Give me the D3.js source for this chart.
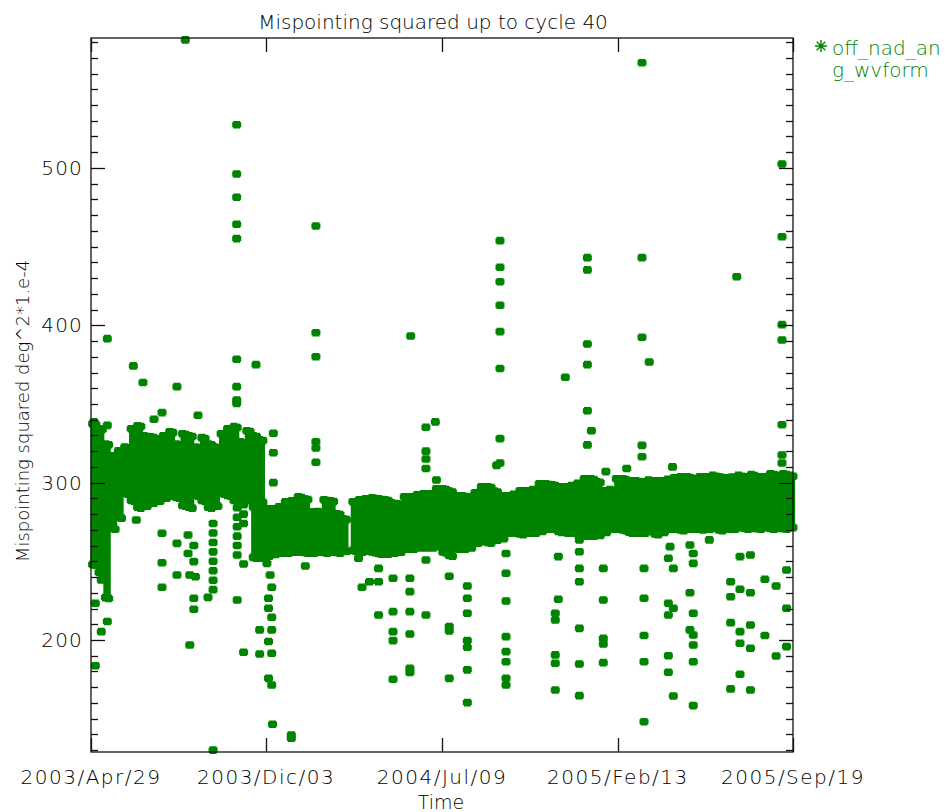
<!DOCTYPE html>
<html><head><meta charset="utf-8">
<script src="https://cdn.jsdelivr.net/npm/d3@7"></script>
<style>body{margin:0;background:#fff} text{font-family:"DejaVu Sans",sans-serif;font-weight:200;}</style>
</head><body><svg id="c" width="949" height="812"></svg>
<script>
// ---------- data ----------
const startDate = "2003-04-29";
const endDate = "2005-09-19";
const yDomain = [128.8, 582.6];
const yMajorTicks = [200, 300, 400, 500];
const yMinorStep = 10;
const xTickDates = ["2003-04-29", "2003-12-03", "2004-07-09", "2005-02-13", "2005-09-19"];
const xTickLabels = ["2003/Apr/29", "2003/Dic/03", "2004/Jul/09", "2005/Feb/13", "2005/Sep/19"];
const titleText = "Mispointing squared up to cycle 40";
const xLabel = "Time";
const yLabel = "Mispointing squared deg^2*1.e-4";
const legendLines = ["off_nad_an", "g_wvform"];

// dense band: [day since start, low value, high value], each column spans bandStep days
const bandStep = 8;
const bandA = [[0,245,339.8],[8,240,336.7],[16,224,327],[24,268,319.5],[32,275,322.6],[40,290.3,325],[48,285.8,336.7],[56,281.4,338.6],[64,282.6,332.2],[72,284.5,331.6],[80,285.8,330.3],[88,287.7,332.2],[96,289,334.7],[104,287.7,327],[112,282.6,333.5],[120,281.4,332.2],[128,289,325],[136,285.8,331],[144,281.4,327],[152,282.6,325],[160,290.3,333.5],[168,289,336.7],[176,285.8,338],[184,284.5,328.3],[192,286.4,335.4],[200,283.9,332.2],[208,285.1,329.7]];
const bandB = [[200,249.6,287],[208,249.6,287],[216,250.8,285.8],[224,252,285.8],[232,252.7,287],[240,252.7,290.3],[248,253.4,290.9],[256,253.4,293.4],[264,252.7,292.2],[272,252.7,283.9],[280,253.4,284],[288,252.7,291.5],[296,253.4,290.9],[304,252.7,282.6],[312,254,279.4]];
const bandC = [[324,254,290.3],[332,253.4,291.5],[340,254,292.2],[348,253,292.8],[356,252.1,292.2],[364,252.1,291.5],[372,252.7,289.6],[380,253.4,289],[388,255.3,293.4],[396,255.3,293.4],[404,256,294.7],[412,256.1,295.3],[420,256.1,295.3],[428,257,298.5],[436,253,298.5],[444,250.8,297],[452,255.3,294.1],[460,255.3,294.1],[468,256,293.4],[476,259.1,296],[484,260,299.8],[492,259.1,299.8],[500,261,297],[508,262,294.1],[516,265.5,294.1],[524,265.5,295],[532,264.5,297.2],[540,265.5,297.2],[548,265.5,298],[556,266.5,301.7],[564,268,301.7],[572,268,301],[580,266,299.8],[588,265.5,299.8],[596,265.5,300.5],[604,264.5,302],[612,263.6,304.9],[620,263.6,304.9],[628,264,303],[636,266,297.2],[644,268,298],[652,268,304.9],[660,267,304.9],[668,265.5,303.6],[676,265.5,303.6],[684,265.5,303],[692,266.5,304],[700,264.5,303.6],[708,266,303.6],[716,268,304.5],[724,268,305.5],[732,267,306.1],[740,268,306.1],[748,268,305],[756,267.5,306.1],[764,268,306.1],[772,268.5,307],[780,267,306.1],[788,268,305.5],[796,268,306],[804,269,307],[812,268,306.1],[820,268.5,307.5],[828,268,306.1],[836,269,306.1],[844,268,308],[852,268.5,307],[860,268,308],[868,269,307]];

// scattered points: [day since start, [values...]]
const outliers = [
  [3.7,[338.6]],[5.4,[223.3,183.6]],[12.8,[238.1,205.3]],[20.3,[391.5,336.4,211.7]],
  [52.7,[374.2]],[56.4,[276.3]],[64.7,[363.6]],[78.4,[340.3]],[88.4,[344.5,267.8,249.1,233.5]],
  [107,[361.0,261.4,241.3]],[117.4,[581.4]],[120.8,[266.7,255.0]],[123,[241.3,196.8]],
  [128,[260.0,249.8,226.5,219.5]],[130,[240.2]],[133.2,[342.8]],[145.7,[227.1]],
  [152,[274,268,262,256,250,244,238,232,130.0]],
  [181.4,[527.5,496.2,481.4,464.2,455.1,378.4,361.0,352.5,350.4]],
  [182,[284,278,272,266,260,254,225.4]],[190,[286,280,274,248.3,192.2]],
  [205.4,[375.0]],[210,[206.4,191.1]],[219,[248.7]],
  [221,[226.5,220.2,199,175.6]],[223,[241.3]],[225,[233.5,214.4,206.4,191.6,171.4]],[226,[146.4]],
  [227,[331.4,319,300]],[249.4,[139.6,137.5]],[266.8,[247]],
  [280,[463.1,395.3,380.0,326.0,322.0,313.0]],
  [333,[252]],[337.4,[233.5]],[346.7,[237]],[358,[245.5,237,215.9]],
  [376,[239.2,218,205.3,199.6,175]],[397,[239.2,230.7,218,203.8,182,179.3]],[398,[393.2]],
  [417,[335.2,320,315,309,250.8,215.9]],[428.7,[338.6]],[430,[301.7]],
  [446,[240.5,208.5,205.8,175.6]],[468.5,[234.3,226.5,217,199.6,195.4,181,160.2]],
  [505,[311]],[509.2,[453.8,436.9,427.7,412.7,396.0,372.5,328.0,312.5]],
  [516.7,[255,242.4,224.8,202.1,192.6,186.2,175.6,171.4]],
  [578,[217,212.7,190.5,185.2,168.2]],[581.8,[253,225.9]],[590.5,[367.0]],
  [608,[263.6,256.1,245.5,237,207.4,184.7,164.6]],
  [618,[443.0,435.2,388.1,375.0,345.7,324.0]],[623,[333.0]],
  [637.8,[245.5,225.4,201,197.5,185.6]],[641,[307]],[667,[309]],
  [686,[566.9,443.0,392.4,323.7,316.5]],[688.5,[245.5,226.5,202.8,186.2,148]],[695,[376.7]],
  [718.8,[251.9,223.3,215.9,190,179.5]],[720.9,[259.3]],[724,[310]],[725,[245.5,220.2,164.4]],
  [745.7,[260.4,230,206.4]],[749.8,[255,248.7,217,203.2,196.8,186.2,158.3]],[769.8,[263.6]],
  [796.4,[237,227.5,211,168.9]],[804,[430.9]],[808,[253,232.2,205.3,197.9,178.2]],
  [821,[254,230,209.5,194.7,168.2]],[839,[238.6,202.8]],[853,[234.3,189.8]],
  [860.3,[502.5,456.3,400.4,390.7,336.8,317.6,312.5]],[866,[244.5,220.2,195.8]]
];

// ---------- drawing ----------
const W = 949, H = 812;
const M = {left: 91, right: 793, top: 38, bottom: 752};
const green = "#008400";
const svg = d3.select("#c");
svg.append("rect").attr("width", W).attr("height", H).attr("fill", "#fff");

const t0 = new Date(startDate + "T00:00:00Z");
const dayToDate = d => new Date(t0.getTime() + d * 864e5);
const x = d3.scaleUtc().domain([t0, new Date(endDate + "T00:00:00Z")]).range([M.left, M.right]);
const y = d3.scaleLinear().domain(yDomain).range([M.bottom, M.top]);
const markerPath = "M-4.5,-2.5L-3.5,-2.5L-3.5,-3.8L3.5,-3.8L3.5,-2.5L4.5,-2.5L4.5,2.5L3.5,2.5L3.5,3.8L-3.5,3.8L-3.5,2.5L-4.5,2.5Z";

// band columns (core drawn slightly inset, edges drawn with markers)
const bands = bandA.concat(bandB, bandC);
svg.append("g").selectAll("rect").data(bands).join("rect")
  .attr("x", d => x(dayToDate(d[0])) - 0.5)
  .attr("width", d => x(dayToDate(d[0] + bandStep)) - x(dayToDate(d[0])) + 1)
  .attr("y", d => y(d[2]) + 3)
  .attr("height", d => Math.max(0, y(d[1]) - y(d[2]) - 6))
  .attr("fill", green);
const edgeMarks = [];
bands.forEach(b => {
  [b[0] + bandStep * 0.25, b[0] + bandStep * 0.75].forEach((dd, k) => {
    edgeMarks.push({d: dd, v: b[2], off: 3.8 + (k ? 0.8 : 0)});
    edgeMarks.push({d: dd, v: b[1], off: -3.8 - (k ? 0 : 0.8)});
  });
});
svg.append("g").selectAll("path").data(edgeMarks).join("path")
  .attr("transform", d => `translate(${x(dayToDate(d.d))},${y(d.v) + d.off})`)
  .attr("d", markerPath).attr("fill", green);

// scattered markers
const pts = [];
outliers.forEach(([d, vs]) => vs.forEach(v => pts.push([d, v])));
svg.append("g").selectAll("path").data(pts).join("path")
  .attr("transform", d => `translate(${x(dayToDate(d[0]))},${y(d[1])})`)
  .attr("d", markerPath)
  .attr("fill", green);

// frame
const axisColor = "#111";
svg.append("rect").attr("x", M.left).attr("y", M.top)
  .attr("width", M.right - M.left).attr("height", M.bottom - M.top)
  .attr("fill", "none").attr("stroke", axisColor).attr("stroke-width", 1.3);

// y ticks
const minorVals = d3.range(130, 581, yMinorStep).filter(v => !yMajorTicks.includes(v));
const yAxisG = svg.append("g").attr("stroke", axisColor).attr("stroke-width", 1.3);
[[minorVals, 7], [yMajorTicks, 14]].forEach(([vals, len]) => {
  vals.forEach(v => {
    const yy = Math.round(y(v)) + 0.5;
    yAxisG.append("line").attr("x1", M.left).attr("x2", M.left + len).attr("y1", yy).attr("y2", yy);
    yAxisG.append("line").attr("x1", M.right).attr("x2", M.right - len).attr("y1", yy).attr("y2", yy);
  });
});
// x ticks
xTickDates.forEach(s => {
  const xx = Math.round(x(new Date(s + "T00:00:00Z"))) + 0.5;
  yAxisG.append("line").attr("x1", xx).attr("x2", xx).attr("y1", M.bottom).attr("y2", M.bottom - 14);
  yAxisG.append("line").attr("x1", xx).attr("x2", xx).attr("y1", M.top).attr("y2", M.top + 14);
});

const txt = (sel) => sel.attr("fill", "#000");
// y labels
svg.append("g").selectAll("text").data(yMajorTicks).join("text")
  .attr("x", 83).attr("y", d => y(d) + 7)
  .attr("text-anchor", "end").attr("font-size", 20).attr("letter-spacing", 1.2).text(d => d).call(txt);
// x labels
svg.append("g").selectAll("text").data(xTickDates).join("text")
  .attr("x", d => x(new Date(d + "T00:00:00Z"))).attr("y", 784)
  .attr("text-anchor", "middle").attr("font-size", 20).attr("letter-spacing", 1.5)
  .text((d, i) => xTickLabels[i]).call(txt);
svg.append("text").attr("x", 441).attr("y", 809)
  .attr("text-anchor", "middle").attr("font-size", 19).text(xLabel).call(txt);
svg.append("text").attr("transform", `translate(29,411) rotate(-90)`)
  .attr("text-anchor", "middle").attr("font-size", 18).text(yLabel).call(txt);
svg.append("text").attr("x", 433).attr("y", 29)
  .attr("text-anchor", "middle").attr("font-size", 20).text(titleText).call(txt);

// legend
const lg = svg.append("g");
lg.append("path").attr("transform", "translate(821,46)")
  .attr("d", "M-6,0H6M0,-6V6M-4.3,-4.3L4.3,4.3M-4.3,4.3L4.3,-4.3")
  .attr("stroke", green).attr("stroke-width", 1.4).attr("fill", "none");
lg.selectAll("text").data(legendLines).join("text")
  .attr("x", 832).attr("y", (d, i) => 55 + i * 22)
  .attr("font-size", 20).attr("fill", green).text(d => d);
</script></body></html>
